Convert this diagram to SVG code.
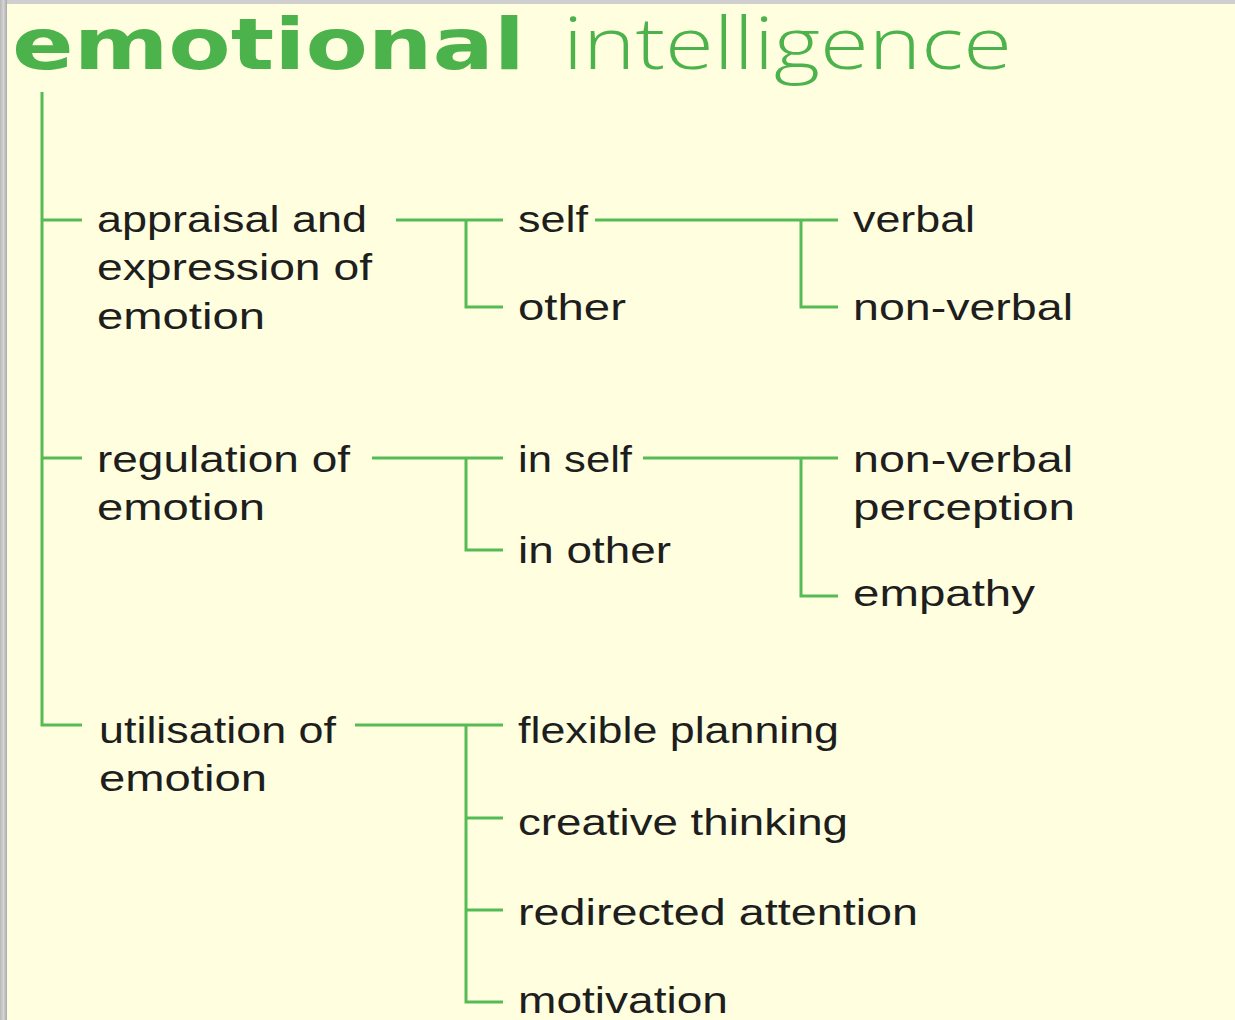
<svg xmlns="http://www.w3.org/2000/svg" width="1235" height="1020" viewBox="0 0 1235 1020">
<defs>
<linearGradient id="lb" x1="0" y1="0" x2="1" y2="0">
<stop offset="0" stop-color="#b8b8b8"/><stop offset="0.5" stop-color="#d4d4d4"/><stop offset="1" stop-color="#a9a9a9"/>
</linearGradient>
</defs>
<style>
.t{font-family:"Liberation Sans",Arial,sans-serif;font-size:37px;fill:#1e1e1e}
.c{stroke:#55bb55;stroke-width:3;fill:none}
</style>
<rect x="0" y="0" width="1235" height="1020" fill="#ffffdf"/>
<rect x="0" y="0" width="1235" height="4" fill="#cfcfcf"/>
<rect x="0" y="0" width="7" height="1020" fill="url(#lb)"/>
<g id="title">
<text x="12" y="69" font-family="DejaVu Sans, sans-serif" font-weight="bold" font-size="72" fill="#4cb34c" textLength="513" lengthAdjust="spacingAndGlyphs">emotional</text>
<text x="563" y="69" font-family="Open Sans, DejaVu Sans, sans-serif" font-weight="300" font-size="72" fill="#4cb34c" textLength="449" lengthAdjust="spacingAndGlyphs">intelligence</text>
</g>
<g id="connectors">
<path class="c" d="M42 92 V725 H82 M42 220 H82 M42 458 H82"/>
<path class="c" d="M396 220 H503 M466 220 V307 H503"/>
<path class="c" d="M595 220 H838 M801 220 V307 H838"/>
<path class="c" d="M372 458 H503 M466 458 V550 H503"/>
<path class="c" d="M643 458 H838 M801 458 V596 H838"/>
<path class="c" d="M355 725 H503 M466 725 V1002 H503 M466 818 H503 M466 910 H503"/>
</g>
<g id="appraisal">
<text class="t" x="97" y="232" textLength="270" lengthAdjust="spacingAndGlyphs">appraisal and</text>
<text class="t" x="97" y="280" textLength="275" lengthAdjust="spacingAndGlyphs">expression of</text>
<text class="t" x="97" y="329" textLength="168" lengthAdjust="spacingAndGlyphs">emotion</text>
</g>
<g id="self"><text class="t" x="518" y="232" textLength="70" lengthAdjust="spacingAndGlyphs">self</text></g>
<g id="other"><text class="t" x="518" y="320" textLength="108" lengthAdjust="spacingAndGlyphs">other</text></g>
<g id="verbal"><text class="t" x="853" y="232" textLength="122" lengthAdjust="spacingAndGlyphs">verbal</text></g>
<g id="nonverbal1"><text class="t" x="853" y="320" textLength="220" lengthAdjust="spacingAndGlyphs">non-verbal</text></g>
<g id="regulation">
<text class="t" x="97" y="472" textLength="253" lengthAdjust="spacingAndGlyphs">regulation of</text>
<text class="t" x="97" y="520" textLength="168" lengthAdjust="spacingAndGlyphs">emotion</text>
</g>
<g id="inself"><text class="t" x="518" y="472" textLength="114" lengthAdjust="spacingAndGlyphs">in self</text></g>
<g id="inother"><text class="t" x="518" y="563" textLength="153" lengthAdjust="spacingAndGlyphs">in other</text></g>
<g id="nonverbalperception">
<text class="t" x="853" y="472" textLength="220" lengthAdjust="spacingAndGlyphs">non-verbal</text>
<text class="t" x="853" y="520" textLength="222" lengthAdjust="spacingAndGlyphs">perception</text>
</g>
<g id="empathy"><text class="t" x="853" y="606" textLength="182" lengthAdjust="spacingAndGlyphs">empathy</text></g>
<g id="utilisation">
<text class="t" x="99" y="743" textLength="237" lengthAdjust="spacingAndGlyphs">utilisation of</text>
<text class="t" x="99" y="791" textLength="168" lengthAdjust="spacingAndGlyphs">emotion</text>
</g>
<g id="flexible"><text class="t" x="518" y="743" textLength="321" lengthAdjust="spacingAndGlyphs">flexible planning</text></g>
<g id="creative"><text class="t" x="518" y="835" textLength="330" lengthAdjust="spacingAndGlyphs">creative thinking</text></g>
<g id="redirected"><text class="t" x="518" y="925" textLength="400" lengthAdjust="spacingAndGlyphs">redirected attention</text></g>
<g id="motivation"><text class="t" x="518" y="1013" textLength="210" lengthAdjust="spacingAndGlyphs">motivation</text></g>
</svg>
